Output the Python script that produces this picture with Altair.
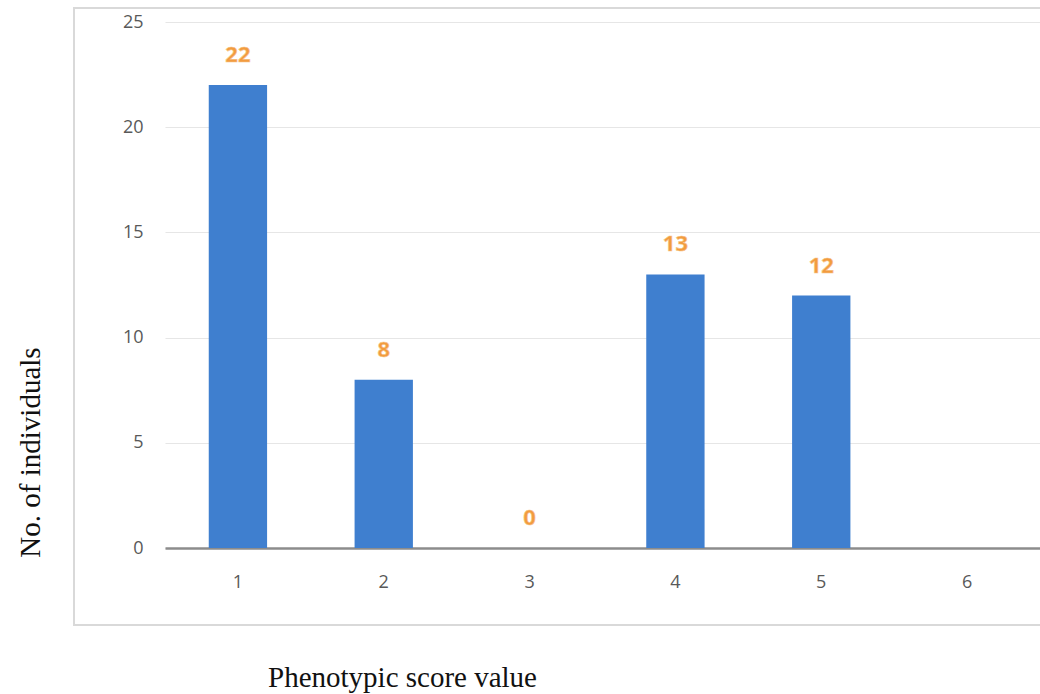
import altair as alt
import pandas as pd

scores = ["1", "2", "3", "4", "5", "6"]
counts = [22, 8, 0, 13, 12, None]
y_ticks = [0, 5, 10, 15, 20, 25]

df = pd.DataFrame({"score": scores, "count": counts})

x_enc = alt.X(
    "score:N",
    sort=scores,
    scale=alt.Scale(paddingInner=0.6, paddingOuter=0.3),
    axis=alt.Axis(
        title="Phenotypic score value",
        labelAngle=0,
        labelFont="Open Sans",
        labelFontSize=18,
        labelColor="#595959",
        labelPadding=25,
        ticks=False,
        domainColor="#8c8c8c",
        domainWidth=2.5,
        grid=False,
        titleFont="Liberation Serif",
        titleFontSize=29,
        titleFontWeight="normal",
        titleColor="#111111",
        titleX=237,
        titleY=129,
        titleBaseline="middle",
        titleAlign="center",
    ),
)

y_enc = alt.Y(
    "count:Q",
    scale=alt.Scale(domain=[0, 25], nice=False),
    axis=alt.Axis(
        title="No. of individuals",
        values=y_ticks,
        labelFont="Open Sans",
        labelFontSize=18,
        labelColor="#595959",
        labelPadding=22,
        ticks=False,
        domain=False,
        gridColor="#e6e6e6",
        gridWidth=1.2,
        titleFont="Liberation Serif",
        titleFontSize=29,
        titleFontWeight="normal",
        titleColor="#111111",
        titleAngle=-90,
        titleX=-135,
        titleY=430,
        titleAlign="center",
        titleBaseline="middle",
    ),
)

bars = alt.Chart(df).mark_bar(color="#3f7fcf").encode(x=x_enc, y=y_enc)

labels = alt.Chart(df).transform_filter("datum.count != null").mark_text(
    font="Open Sans",
    fontSize=22,
    fontWeight="bold",
    color="#f29b3f",
    stroke="#f7c58a",
    strokeWidth=0.6,
    baseline="middle",
    dy=-30,
).encode(x=alt.X("score:N", sort=scores), y="count:Q", text="count:Q")

border = alt.Chart(pd.DataFrame({"a": [0]})).mark_rect(
    fill=None, stroke="#d9d9d9", strokeWidth=2
).encode(
    x=alt.value(-91), x2=alt.value(890), y=alt.value(-14), y2=alt.value(603)
)

chart = alt.layer(border, bars, labels).properties(
    width=875,
    height=526,
    padding={"left": 165, "top": 22, "right": 0, "bottom": 146},
    autosize=alt.AutoSizeParams(type="none"),
    background="white",
).configure_view(stroke=None)

chart.save("out.html", embed_options={"renderer": "svg", "actions": False})
